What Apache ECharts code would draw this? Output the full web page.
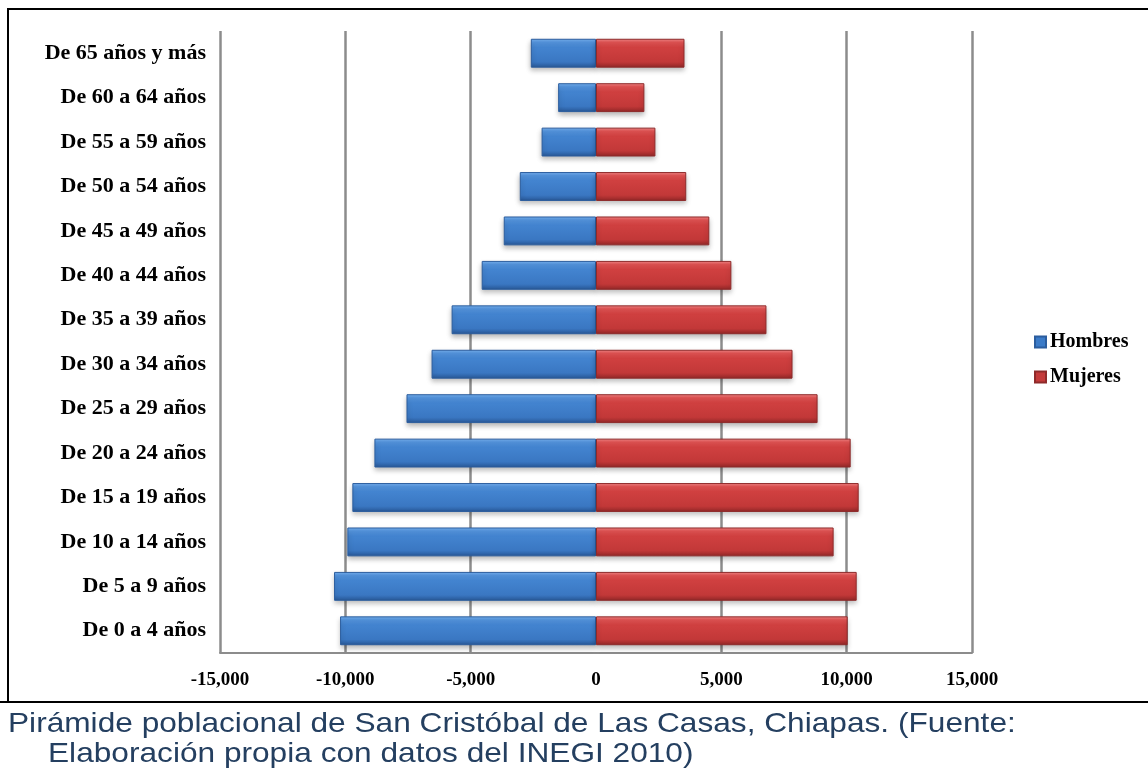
<!DOCTYPE html>
<html>
<head>
<meta charset="utf-8">
<script src="https://cdn.jsdelivr.net/npm/echarts@6/dist/echarts.min.js"></script>
<style>
html,body{margin:0;padding:0;background:#fff;}
#chart{width:1148px;height:774px;}
</style>
</head>
<body>
<div id="chart"></div>
<script>
var categories = ['De 0 a 4 años','De 5 a 9 años','De 10 a 14 años','De 15 a 19 años','De 20 a 24 años','De 25 a 29 años','De 30 a 34 años','De 35 a 39 años','De 40 a 44 años','De 45 a 49 años','De 50 a 54 años','De 55 a 59 años','De 60 a 64 años','De 65 años y más'];
var hombres = [-10210, -10450, -9920, -9720, -8840, -7560, -6560, -5760, -4560, -3680, -3040, -2170, -1510, -2600];
var mujeres = [10040, 10400, 9480, 10480, 10160, 8840, 7840, 6800, 5400, 4520, 3600, 2370, 1930, 3530];
var xTicks = [-15000, -10000, -5000, 0, 5000, 10000, 15000];
var captionLines = ['Pirámide poblacional de San Cristóbal de Las Casas, Chiapas. (Fuente:', 'Elaboración propia con datos del INEGI 2010)'];

var chart = echarts.init(document.getElementById('chart'), null, {renderer:'canvas'});
function grad(stops){ return new echarts.graphic.LinearGradient(0,0,0,1, stops); }
var blueFill = grad([{offset:0,color:'#7ab4f2'},{offset:0.12,color:'#5596e0'},{offset:0.3,color:'#4384d0'},{offset:0.8,color:'#3a77c2'},{offset:0.92,color:'#2f64a8'},{offset:1,color:'#28548e'}]);
var redFill = grad([{offset:0,color:'#f58a8a'},{offset:0.12,color:'#e35454'},{offset:0.3,color:'#d04040'},{offset:0.8,color:'#c23838'},{offset:0.92,color:'#a52e2e'},{offset:1,color:'#8a2626'}]);
var serif = '"Liberation Serif","DejaVu Serif",serif';
function fmt(v){ var s = Math.abs(v).toString().replace(/\B(?=(\d{3})+(?!\d))/g, ','); return (v<0?'-':'') + s; }

chart.setOption({
  animation:false,
  backgroundColor:'#fff',
  grid:{left:220, right:176, top:31, bottom:121, containLabel:false},
  legend:{
    orient:'vertical', left:1029, top:327, itemWidth:11, itemHeight:11, itemGap:15,
    icon:'rect',
    data:[{name:'Hombres', itemStyle:{color:'#3b7bc8'}},{name:'Mujeres', itemStyle:{color:'#c43a3a'}}],
    textStyle:{fontFamily:serif, fontWeight:'bold', fontSize:20, color:'#000', padding:[0,0,0,-1]}
  },
  xAxis:{
    type:'value', min:-15000, max:15000, interval:5000,
    axisLine:{show:true, lineStyle:{color:'#8c8c8c', width:2}},
    axisTick:{show:false},
    axisLabel:{fontFamily:serif, fontWeight:'bold', fontSize:19, color:'#000', margin:18, formatter:function(v){return fmt(v);}},
    splitLine:{show:true, lineStyle:{color:['#8c8c8c','#8c8c8c','#8c8c8c','rgba(0,0,0,0)','#8c8c8c','#8c8c8c','#8c8c8c'], width:2.5}}
  },
  yAxis:{
    type:'category', data:categories,
    axisLine:{show:false}, axisTick:{show:false},
    axisLabel:{fontFamily:serif, fontWeight:'bold', fontSize:22, color:'#000', margin:14}
  },
  series:[
    {name:'Hombres', type:'bar', stack:'pop', data:hombres, barCategoryGap:'35%',
     itemStyle:{color:blueFill, borderColor:'#2b5d9e', borderWidth:1, shadowColor:'rgba(0,0,0,0.28)', shadowBlur:5, shadowOffsetY:3}},
    {name:'Mujeres', type:'bar', stack:'pop', data:mujeres, barCategoryGap:'35%',
     itemStyle:{color:redFill, borderColor:'#8e2a2a', borderWidth:1, shadowColor:'rgba(0,0,0,0.28)', shadowBlur:5, shadowOffsetY:3}}
  ],
  graphic:[
    {type:'line', shape:{x1:8, y1:9, x2:1148, y2:9}, style:{stroke:'#000', lineWidth:2}},
    {type:'line', shape:{x1:8, y1:8, x2:8, y2:702}, style:{stroke:'#000', lineWidth:2}},
    {type:'line', shape:{x1:0, y1:702, x2:1148, y2:702}, style:{stroke:'#000', lineWidth:2}},
    {type:'text', x:8, y:710, scaleX:1.13, style:{text:captionLines[0], font:'28px "Liberation Sans", Arial, sans-serif', fill:'#243f60'}},
    {type:'text', x:48, y:740, scaleX:1.13, style:{text:captionLines[1], font:'28px "Liberation Sans", Arial, sans-serif', fill:'#243f60'}}
  ]
});
</script>
</body>
</html>
